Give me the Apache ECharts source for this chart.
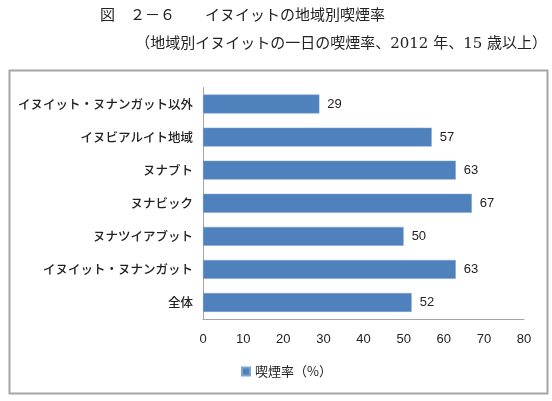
<!DOCTYPE html>
<html>
<head>
<meta charset="utf-8">
<script src="https://cdn.jsdelivr.net/npm/echarts@6/dist/echarts.min.js"></script>
<style>
html, body { margin: 0; padding: 0; background: #fff; }
#chart { width: 552px; height: 401px; }
</style>
</head>
<body>
<div id="chart"></div>
<script>
// 地域（上から下の順）
var regions = ['イヌイット・ヌナンガット以外', 'イヌビアルイト地域', 'ヌナブト', 'ヌナビック', 'ヌナツイアブット', 'イヌイット・ヌナンガット', '全体'];
// 喫煙率（%）
var smokingRate = [29, 57, 63, 67, 50, 63, 52];
var seriesName = '喫煙率（%）';
var titleLine1 = '図　２－６　　イヌイットの地域別喫煙率';
var titleLine2 = '（地域別イヌイットの一日の喫煙率、2012 年、15 歳以上）';

var cjk = '"Noto Sans CJK JP", sans-serif';
var chart = echarts.init(document.getElementById('chart'));

var option = {
    animation: false,
    graphic: [
        {
            type: 'text', left: 100, top: 9,
            style: { text: titleLine1, font: '15px "DejaVu Serif", "Noto Sans CJK JP", serif', fill: '#222' }
        },
        {
            type: 'text', right: 5, top: 37,
            style: { text: titleLine2, font: '15px "DejaVu Serif", "Noto Sans CJK JP", serif', fill: '#222' }
        },
        {
            type: 'rect', shape: { x: 9.5, y: 70.5, width: 538, height: 323 },
            style: { fill: 'none', stroke: '#a6a6a6', lineWidth: 2 }, z: -1
        }
    ],
    legend: {
        data: [seriesName],
        left: 236, top: 360,
        itemWidth: 8, itemHeight: 8, itemGap: 4,
        icon: 'rect',
        textStyle: { fontFamily: cjk, fontSize: 13, color: '#222' }
    },
    grid: { left: 203, right: 28, top: 87.5, bottom: 82 },
    xAxis: {
        type: 'value', min: 0, max: 80, interval: 10,
        axisLine: { show: true, lineStyle: { color: '#a6a6a6' } },
        axisTick: { show: false },
        splitLine: { show: false },
        axisLabel: { margin: 14, fontFamily: '"Liberation Sans", sans-serif', fontSize: 13, color: '#222' }
    },
    yAxis: {
        type: 'category', data: regions, inverse: true,
        axisLine: { show: true, lineStyle: { color: '#a6a6a6' } },
        axisTick: { show: false },
        axisLabel: { margin: 10, fontFamily: cjk, fontSize: 12.5, fontWeight: 500, color: '#222' }
    },
    series: [{
        name: seriesName,
        type: 'bar',
        data: smokingRate,
        barWidth: '57%',
        itemStyle: { color: '#4f81bd', borderColor: '#7ea3d3', borderWidth: 0.5 },
        label: {
            show: true, position: 'right', distance: 8,
            fontFamily: '"Liberation Sans", sans-serif', fontSize: 13, color: '#222'
        }
    }]
};
chart.setOption(option);
</script>
</body>
</html>
